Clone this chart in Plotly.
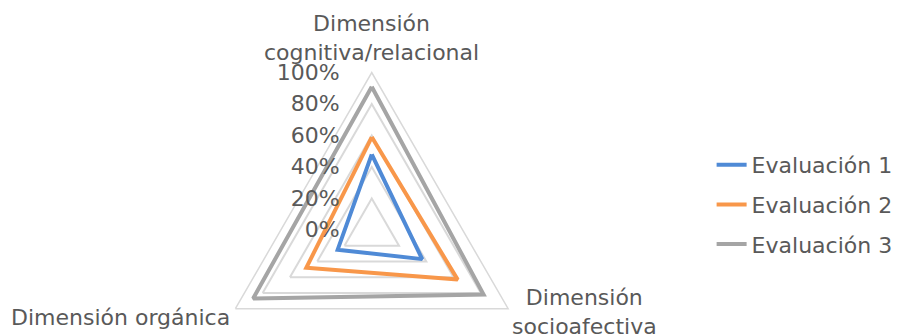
import plotly.graph_objects as go

categories = ["Dimensión<br>cognitiva/relacional", "Dimensión<br>socioafectiva", "Dimensión orgánica"]
series_names = ["Evaluación 1", "Evaluación 2", "Evaluación 3"]
eval1 = [0.48, 0.37, 0.25]
eval2 = [0.59, 0.63, 0.48]
eval3 = [0.91, 0.82, 0.87]
colors = ["#4F8AD6", "#F8974A", "#A5A5A5"]
tick_vals = [0, 0.2, 0.4, 0.6, 0.8, 1.0]

W, H = 898, 400
cx, cy, R = 373, 230, 158

fig = go.Figure()
for i, (name, vals) in enumerate(zip(series_names, [eval1, eval2, eval3])):
    fig.add_trace(go.Scatterpolar(
        r=vals + vals[:1], theta=categories + categories[:1],
        mode="lines", name=name, legendgroup=name,
        line=dict(color=colors[i], width=4),
    ))

font = dict(family="DejaVu Sans, Verdana, sans-serif", size=22, color="#595959")

# category label placement (pixel positions: x, y-center, anchor)
label_pos = [(373, 38, "center"), (586, 312, "center"), (233, 317, "right")]
for cat, (px, py, anc) in zip(categories, label_pos):
    fig.add_annotation(
        text=cat, x=px / W, y=1 - py / H, xref="paper", yref="paper",
        xanchor=anc, yanchor="middle", showarrow=False, font=font, align="center",
    )

fig.update_layout(
    width=W, height=H,
    margin=dict(l=0, r=0, t=0, b=0),
    paper_bgcolor="white",
    font=font,
    polar=dict(
        domain=dict(x=[(cx - R) / W, (cx + R) / W], y=[1 - (cy + R) / H, 1 - (cy - R) / H]),
        gridshape="linear",
        bgcolor="white",
        radialaxis=dict(
            range=[0, 1], tickvals=tick_vals, tickformat=".0%",
            angle=90, side="counterclockwise", tickangle=90,
            showline=False, gridcolor="#D9D9D9", gridwidth=1.5,
            ticks="outside", ticklen=24, tickcolor="rgba(0,0,0,0)", tickfont=font,
        ),
        angularaxis=dict(
            rotation=90, direction="clockwise",
            showgrid=False, showline=True, linecolor="#D9D9D9", linewidth=1.5,
            ticks="", showticklabels=False,
        ),
    ),
    legend=dict(
        x=714 / W, xanchor="left", y=1 - 144 / H, yanchor="top",
        font=font, tracegroupgap=8, traceorder="grouped",
    ),
    showlegend=True,
)

fig.write_html("out.html", post_script="document.documentElement.style.overflow='hidden';document.body.style.overflow='hidden';")
